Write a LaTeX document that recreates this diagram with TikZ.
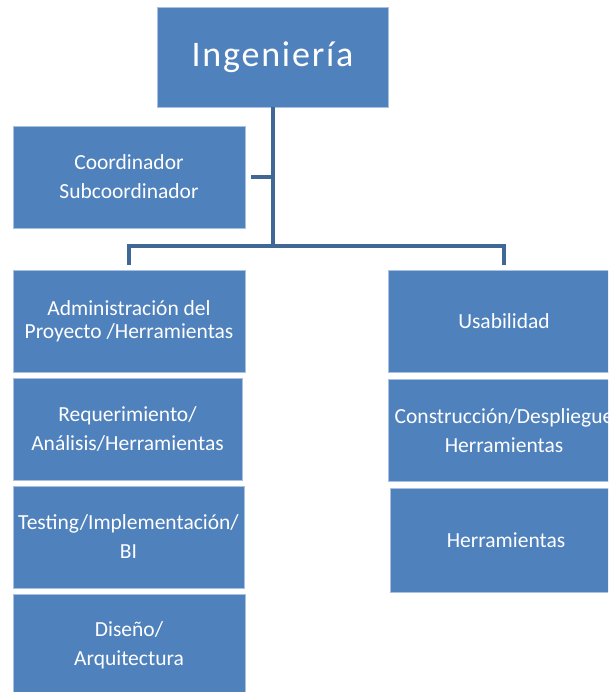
\documentclass[tikz,border=0pt]{standalone}
\usepackage{fontspec}
\setmainfont{Carlito}
\newfontfamily\titlefont[LetterSpace=5]{Carlito}
\definecolor{boxblue}{HTML}{4F81BD}
\definecolor{lineblue}{HTML}{3F6896}
\definecolor{boxedge}{HTML}{A9C1E0}
\begin{document}
\begin{tikzpicture}[x=1pt,y=-1pt,
 unit/.style={rectangle,fill=boxblue,draw=boxedge,line width=0.8pt,text=white,align=center,
  minimum width=232pt,minimum height=102pt,inner sep=0pt,font=\fontsize{21.5}{29}\selectfont},
 conn/.style={lineblue,line width=4pt}]
 \useasboundingbox (0,0) rectangle (608,692);
 \clip (0,0) rectangle (608,692);
 \fill[white] (0,0) rectangle (608,692);
 \node[unit,minimum width=231pt,minimum height=100pt,font=\titlefont\fontsize{36}{40}\selectfont] (ing) at (272.5,57) {Ingeniería};
 \node[unit] (coord) at (129,177) {Coordinador\\Subcoordinador};
 \node[unit,font=\fontsize{21.5}{23}\selectfont] (adm) at (129,321) {Administración del\\Proyecto /Herramientas};
 \node[unit,minimum width=229pt] (req) at (127.5,429) {Requerimiento/\\Análisis/Herramientas};
 \node[unit,minimum width=231pt] (test) at (128.5,537) {Testing/Implementación/\\BI};
 \node[unit] (dis) at (129,645) {Diseño/\\Arquitectura};
 \node[unit] (usa) at (504,321.5) {Usabilidad};
 \node[unit] (cons) at (504,430.5) {Construcción/Despliegue\\Herramientas};
 \node[unit,minimum height=104pt] (herr) at (506,540) {Herramientas};
 \coordinate (hub) at (272.5,246);
 \draw[conn] (ing.south) -- (hub);
 \draw[conn] (ing.south |- coord.east) -- ([xshift=6pt]coord.east);
 \draw[conn,shorten >=5pt] (hub) -| (adm.north);
 \draw[conn,shorten >=5pt] (hub) -| (usa.north);
\end{tikzpicture}
\end{document}
